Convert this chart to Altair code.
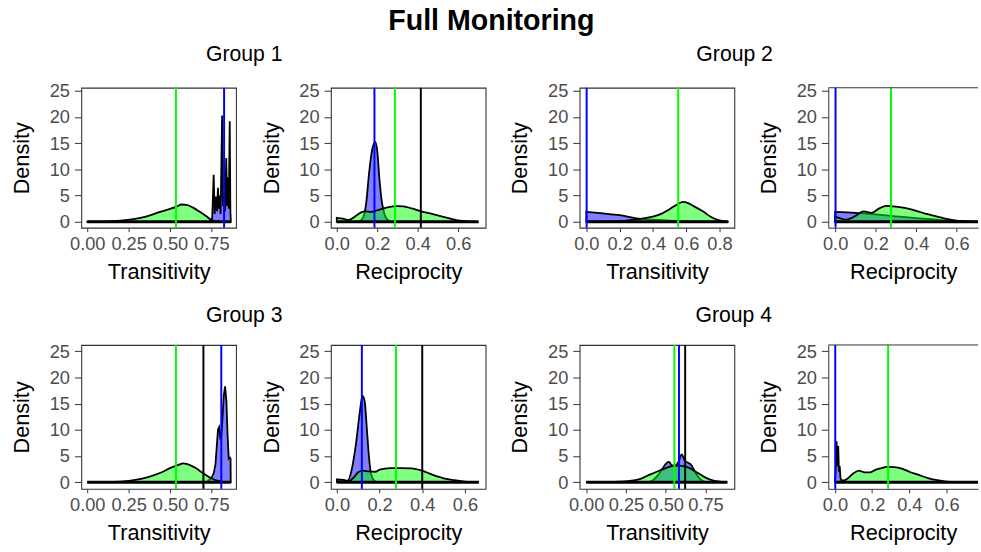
import altair as alt
import pandas as pd

FONT = "Liberation Sans"
GREEN = "#00FF00"
BLUE = "#0000FF"
EDGE = "#333333"

Y_TICKS = [0, 5, 10, 15, 20, 25]

# ---------------- Group 1 : transitivity ----------------
G1_TRANS_GREEN_X = [0, 0.1, 0.2, 0.28, 0.36, 0.44, 0.5, 0.54, 0.57, 0.6, 0.64, 0.68, 0.72, 0.75, 0.79, 0.856]
G1_TRANS_GREEN_Y = [0.02, 0.05, 0.2, 0.5, 1.05, 1.9, 2.45, 2.9, 3.3, 3.25, 2.7, 1.9, 1.05, 0.35, 0.05, 0]
G1_TRANS_BLUE_X = [0.74, 0.755, 0.764, 0.770, 0.778, 0.784, 0.790, 0.795, 0.800, 0.806, 0.815,
                   0.820, 0.826, 0.833, 0.840, 0.845, 0.850, 0.855, 0.861, 0.865, 0.868]
G1_TRANS_BLUE_Y = [0, 0.6, 9.0, 1.5, 4.8, 2.0, 6.5, 2.5, 5.0, 1.5, 20.3,
                   3.0, 5.5, 2.0, 12.2, 3.0, 8.5, 2.5, 19.2, 2.0, 0]
G1_TRANS_LINES = {"green": 0.536, "blue": 0.827}

# ---------------- Group 1 : reciprocity ----------------
G1_RECIP_GREEN_X = [0, 0.03, 0.06, 0.09, 0.12, 0.14, 0.17, 0.2, 0.25, 0.3, 0.33, 0.37, 0.42, 0.47, 0.52, 0.57, 0.62, 0.66, 0.7]
G1_RECIP_GREEN_Y = [0.75, 0.6, 0.35, 1.0, 1.8, 2.0, 1.9, 2.2, 2.75, 3.0, 2.95, 2.55, 1.95, 1.5, 1.0, 0.5, 0.15, 0.04, 0]
G1_RECIP_BLUE_X = [0.11, 0.13, 0.145, 0.16, 0.175, 0.19, 0.2, 0.21, 0.22, 0.23, 0.24, 0.25, 0.27]
G1_RECIP_BLUE_Y = [0, 0.8, 3.5, 9.5, 13.8, 15.2, 13.5, 8.5, 4.5, 2.3, 1.0, 0.4, 0]
G1_RECIP_LINES = {"blue": 0.186, "green": 0.287, "black": 0.415}

# ---------------- Group 2 : transitivity ----------------
G2_TRANS_GREEN_X = [0, 0.1, 0.2, 0.25, 0.3, 0.35, 0.4, 0.45, 0.5, 0.55, 0.58, 0.6, 0.65, 0.7, 0.75, 0.8, 0.85]
G2_TRANS_GREEN_Y = [0, 0.02, 0.1, 0.25, 0.45, 0.7, 1.0, 1.5, 2.4, 3.4, 3.8, 3.7, 2.9, 2.0, 0.9, 0.25, 0.03]
G2_TRANS_BLUE_X = [0, 0.1, 0.2, 0.3, 0.4, 0.5, 0.6, 0.7, 0.8, 0.85]
G2_TRANS_BLUE_Y = [1.9, 1.6, 1.25, 0.65, 0.4, 0.2, 0.08, 0.03, 0.01, 0]
G2_TRANS_LINES = {"blue": 0.002, "green": 0.552}

# ---------------- Group 2 : reciprocity ----------------
G2_RECIP_GREEN_X = [0, 0.03, 0.05, 0.08, 0.1, 0.14, 0.18, 0.22, 0.25, 0.3, 0.35, 0.4, 0.45, 0.5, 0.55, 0.6, 0.65, 0.7]
G2_RECIP_GREEN_Y = [1.0, 0.6, 0.4, 0.7, 1.1, 2.0, 1.7, 2.6, 3.05, 2.9, 2.6, 2.1, 1.5, 1.05, 0.55, 0.2, 0.05, 0]
G2_RECIP_BLUE_X = [0, 0.1, 0.2, 0.3, 0.4, 0.5, 0.6, 0.7]
G2_RECIP_BLUE_Y = [1.9, 1.7, 1.4, 1.05, 0.7, 0.4, 0.15, 0.02]
G2_RECIP_LINES = {"blue": 0.002, "green": 0.276}

# ---------------- Group 3 : transitivity ----------------
G3_TRANS_GREEN_X = [0, 0.1, 0.2, 0.3, 0.35, 0.4, 0.45, 0.5, 0.55, 0.58, 0.6, 0.65, 0.7, 0.75, 0.78, 0.82, 0.87]
G3_TRANS_GREEN_Y = [0, 0.03, 0.12, 0.5, 0.85, 1.3, 1.9, 2.7, 3.3, 3.6, 3.5, 2.8, 1.75, 0.75, 0.35, 0.08, 0]
G3_TRANS_BLUE_X = [0.72, 0.75, 0.765, 0.775, 0.783, 0.79, 0.797, 0.804, 0.81, 0.817, 0.825,
                   0.833, 0.841, 0.848, 0.855, 0.862, 0.866, 0.867]
G3_TRANS_BLUE_Y = [0, 0.8, 1.8, 3.5, 7.0, 10.0, 10.5, 8.5, 8.8, 12.0, 16.5,
                   18.3, 15.5, 9.0, 4.5, 4.7, 4.5, 0]
G3_TRANS_LINES = {"green": 0.536, "black": 0.702, "blue": 0.81}

# ---------------- Group 3 : reciprocity ----------------
G3_RECIP_GREEN_X = [0, 0.03, 0.055, 0.08, 0.1, 0.12, 0.15, 0.18, 0.2, 0.25, 0.3, 0.35, 0.4, 0.45, 0.5, 0.55, 0.6, 0.665]
G3_RECIP_GREEN_Y = [0.55, 0.45, 0.2, 0.95, 1.9, 2.2, 2.05, 2.0, 2.4, 2.7, 2.7, 2.65, 2.2, 1.4, 0.75, 0.38, 0.13, 0]
G3_RECIP_BLUE_X = [0.0, 0.03, 0.05, 0.07, 0.09, 0.105, 0.12, 0.13, 0.14, 0.15, 0.16, 0.175, 0.19]
G3_RECIP_BLUE_Y = [0.3, 0.3, 0.3, 2.5, 7.5, 12.6, 16.5, 15.5, 10.5, 5.0, 1.6, 0.3, 0]
G3_RECIP_LINES = {"blue": 0.117, "green": 0.277, "black": 0.4}

# ---------------- Group 4 : transitivity ----------------
G4_TRANS_GREEN_X = [0, 0.1, 0.2, 0.3, 0.35, 0.4, 0.45, 0.5, 0.55, 0.58, 0.6, 0.65, 0.7, 0.75, 0.8, 0.85, 0.887]
G4_TRANS_GREEN_Y = [0, 0.02, 0.1, 0.35, 0.75, 1.45, 2.1, 2.7, 3.1, 3.15, 3.1, 2.7, 1.8, 0.88, 0.3, 0.08, 0]
G4_TRANS_BLUE_X = [0.38, 0.42, 0.45, 0.48, 0.5, 0.52, 0.54, 0.56, 0.58, 0.6, 0.62, 0.64, 0.66, 0.68, 0.7, 0.73, 0.76]
G4_TRANS_BLUE_Y = [0, 0.4, 1.3, 2.6, 3.5, 3.9, 3.2, 3.2, 3.9, 5.3, 4.1, 3.7, 3.3, 2.2, 1.2, 0.3, 0]
G4_TRANS_LINES = {"green": 0.554, "blue": 0.583, "black": 0.622}

# ---------------- Group 4 : reciprocity ----------------
G4_RECIP_GREEN_X = [0, 0.03, 0.05, 0.07, 0.1, 0.13, 0.16, 0.19, 0.22, 0.25, 0.28, 0.32, 0.36, 0.4, 0.45, 0.5, 0.55, 0.6, 0.65, 0.72]
G4_RECIP_GREEN_Y = [0.05, 0.1, 0.3, 0.75, 1.7, 2.2, 1.9, 1.9, 2.4, 2.7, 2.95, 2.9, 2.6, 2.0, 1.4, 0.8, 0.38, 0.13, 0.03, 0]
G4_RECIP_BLUE_X = [0, 0.004, 0.009, 0.013, 0.018, 0.022, 0.026, 0.03, 0.035, 0.05, 0.065]
G4_RECIP_BLUE_Y = [0, 2.0, 7.8, 3.0, 6.9, 2.0, 3.1, 0.8, 0.4, 0.3, 0]
G4_RECIP_LINES = {"blue": 0.002, "green": 0.286}

LINE_COLORS = {"green": GREEN, "blue": BLUE, "black": "black"}

ROW1_Y = [-1.13, 25.6]
ROW2_Y = [-1.26, 26.2]
ROW1_H = 142
ROW2_H = 146


def panel(gx, gy, bx, by, lines, xdom, xticks, xfmt, xtitle, ydom, w, h,
          base_end, spiky=False, open_right=False):
    xs = alt.Scale(domain=xdom, nice=False, zero=False)
    ys = alt.Scale(domain=ydom, nice=False, zero=False)
    xax = alt.Axis(values=xticks, format=xfmt, title=xtitle, labelOverlap=False,
                   labelFlush=False, domain=open_right, domainColor=EDGE)
    yax = alt.Axis(values=Y_TICKS, format="d", title="Density", labelOverlap=False,
                   labelFlush=False, domain=open_right, domainColor=EDGE)
    X = alt.X("x:Q", scale=xs, axis=xax)
    Y = alt.Y("y:Q", scale=ys, axis=yax)

    blue = alt.Chart(pd.DataFrame({"x": bx, "y": by})).mark_area(
        fill=BLUE, fillOpacity=0.5, stroke="black", strokeWidth=1.8,
        interpolate="linear" if spiky else "monotone",
    ).encode(x=X, y=Y, y2=alt.datum(0))
    green = alt.Chart(pd.DataFrame({"x": gx, "y": gy})).mark_area(
        fill=GREEN, fillOpacity=0.5, stroke="black", strokeWidth=1.8,
        interpolate="monotone",
    ).encode(x=X, y=Y, y2=alt.datum(0))
    base = alt.Chart(pd.DataFrame({"x": [0.0], "xe": [base_end], "y": [0.0]})).mark_rule(
        color="black", strokeWidth=3, clip=True
    ).encode(x=X, x2="xe:Q", y=Y)
    vdf = pd.DataFrame({"x": list(lines.values()),
                        "c": [LINE_COLORS[k] for k in lines.keys()]})
    vlines = alt.Chart(vdf).mark_rule(strokeWidth=2).encode(
        x=X, color=alt.Color("c:N", scale=None)
    )
    layers = [blue, green, base, vlines]
    if open_right:
        top = alt.Chart(pd.DataFrame({"x": [xdom[0]], "xe": [xdom[1]]})).mark_rule(
            color=EDGE, strokeWidth=1
        ).encode(x=X, x2="xe:Q", y=alt.value(0))
        layers.append(top)
    ch = alt.layer(*layers).properties(width=w, height=h)
    if open_right:
        ch = ch.properties(view=alt.ViewBackground(stroke=None))
    return ch


T4 = [0, 0.25, 0.5, 0.75]
R4 = [0, 0.2, 0.4, 0.6]
T5 = [0, 0.2, 0.4, 0.6, 0.8]

p1 = panel(G1_TRANS_GREEN_X, G1_TRANS_GREEN_Y, G1_TRANS_BLUE_X, G1_TRANS_BLUE_Y, G1_TRANS_LINES,
           [-0.036, 0.899], T4, ".2f", "Transitivity", ROW1_Y, 157, ROW1_H, 0.868, spiky=True)
p2 = panel(G1_RECIP_GREEN_X, G1_RECIP_GREEN_Y, G1_RECIP_BLUE_X, G1_RECIP_BLUE_Y, G1_RECIP_LINES,
           [-0.029, 0.735], R4, ".1f", "Reciprocity", ROW1_Y, 157, ROW1_H, 0.70)
p3 = panel(G2_TRANS_GREEN_X, G2_TRANS_GREEN_Y, G2_TRANS_BLUE_X, G2_TRANS_BLUE_Y, G2_TRANS_LINES,
           [-0.04, 0.889], T5, ".1f", "Transitivity", ROW1_Y, 157, ROW1_H, 0.85)
p4 = panel(G2_RECIP_GREEN_X, G2_RECIP_GREEN_Y, G2_RECIP_BLUE_X, G2_RECIP_BLUE_Y, G2_RECIP_LINES,
           [-0.034, 0.706], R4, ".1f", "Reciprocity", ROW1_Y, 152, ROW1_H, 0.706, open_right=True)
p5 = panel(G3_TRANS_GREEN_X, G3_TRANS_GREEN_Y, G3_TRANS_BLUE_X, G3_TRANS_BLUE_Y, G3_TRANS_LINES,
           [-0.036, 0.899], T4, ".2f", "Transitivity", ROW2_Y, 157, ROW2_H, 0.868, spiky=True)
p6 = panel(G3_RECIP_GREEN_X, G3_RECIP_GREEN_Y, G3_RECIP_BLUE_X, G3_RECIP_BLUE_Y, G3_RECIP_LINES,
           [-0.028, 0.697], R4, ".1f", "Reciprocity", ROW2_Y, 157, ROW2_H, 0.665)
p7 = panel(G4_TRANS_GREEN_X, G4_TRANS_GREEN_Y, G4_TRANS_BLUE_X, G4_TRANS_BLUE_Y, G4_TRANS_LINES,
           [-0.041, 0.931], T4, ".2f", "Transitivity", ROW2_Y, 157, ROW2_H, 0.887)
p8 = panel(G4_RECIP_GREEN_X, G4_RECIP_GREEN_Y, G4_RECIP_BLUE_X, G4_RECIP_BLUE_Y, G4_RECIP_LINES,
           [-0.0355, 0.769], R4, ".1f", "Reciprocity", ROW2_Y, 152, ROW2_H, 0.769,
           spiky=True, open_right=True)


def group_title(text, dx):
    return alt.TitleParams(text=text, font=FONT, fontSize=21.5, fontWeight="normal",
                           color="black", anchor="middle", offset=16, dx=dx)


S_IN = 22.3
S_OUT = 21.7
row1 = alt.hconcat(
    alt.hconcat(p1, p2, spacing=S_IN, title=group_title("Group 1", -4)),
    alt.hconcat(p3, p4, spacing=S_IN, title=group_title("Group 2", -10)),
    spacing=S_OUT,
)
row2 = alt.hconcat(
    alt.hconcat(p5, p6, spacing=S_IN, title=group_title("Group 3", -4)),
    alt.hconcat(p7, p8, spacing=S_IN, title=group_title("Group 4", -10)),
    spacing=S_OUT,
)

chart = alt.vconcat(
    row1, row2, spacing=21,
    title=alt.TitleParams(text="Full Monitoring", font=FONT, fontSize=29, fontWeight="bold",
                          color="black", anchor="middle", offset=9, dx=-4),
).properties(
    padding={"left": 9.5, "top": 3, "right": 0, "bottom": 0},
    background="white",
).configure_axis(
    labelFont=FONT, labelFontSize=18.5, labelColor="#4D4D4D",
    titleFont=FONT, titleFontSize=22, titleColor="black", titleFontWeight="normal",
    tickColor=EDGE, grid=False,
).configure_axisX(
    tickSize=4, labelPadding=3, titlePadding=9,
).configure_axisY(
    tickSize=7, labelPadding=5, titlePadding=16,
).configure_view(
    stroke=EDGE, strokeWidth=1.1,
)

chart.save("out.html", embed_options={"renderer": "svg", "actions": False})
